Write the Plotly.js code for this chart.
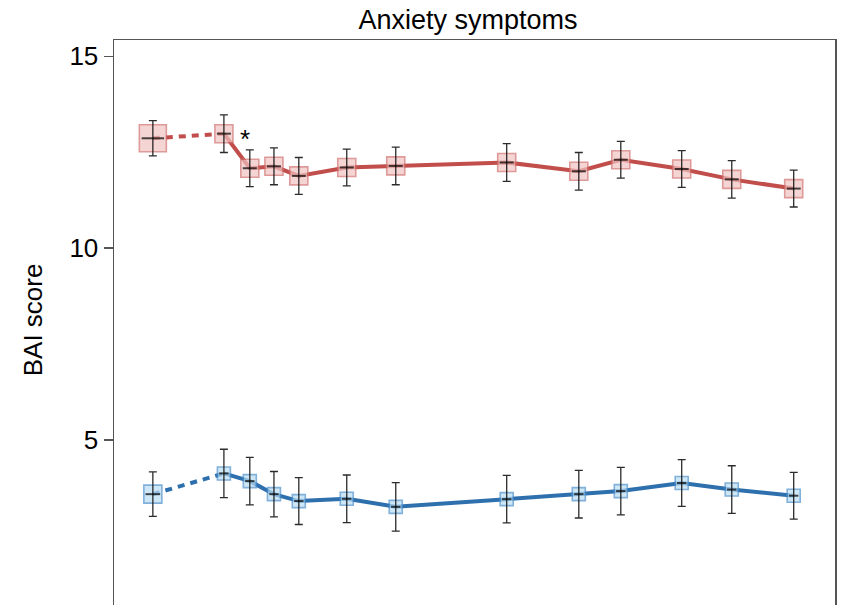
<!DOCTYPE html>
<html>
<head>
<meta charset="utf-8">
<script src="https://cdn.plot.ly/plotly-3.0.1.min.js"></script>
<style>
  html, body { margin: 0; padding: 0; background: #fff; overflow: hidden; }
  #chart { width: 844px; height: 652px; }
</style>
</head>
<body>
<div id="chart"></div>
<script>
// Days since baseline for each assessment wave
const days = [0, 20.3, 27.7, 34.6, 41.7, 55.4, 69.4, 101.1, 121.7, 133.7, 151.1, 165.4, 183.1];

// Group with higher anxiety: mean BAI score and error half-width
const redMean = [12.86, 12.98, 12.08, 12.13, 11.88, 12.10, 12.14, 12.23, 12.00, 12.30, 12.06, 11.79, 11.55];
const redErr  = [0.46, 0.49, 0.48, 0.48, 0.48, 0.48, 0.49, 0.49, 0.49, 0.48, 0.48, 0.49, 0.48];

// Group with lower anxiety
const blueMean = [3.59, 4.13, 3.93, 3.59, 3.41, 3.47, 3.26, 3.46, 3.59, 3.67, 3.88, 3.71, 3.55];
const blueErr  = [0.58, 0.63, 0.62, 0.59, 0.61, 0.62, 0.63, 0.62, 0.62, 0.62, 0.61, 0.62, 0.61];

const yTicks = [5, 10, 15];
const titleText = 'Anxiety symptoms';
const yTitleText = 'BAI score';
const starText = '*';

const FONT = 'Liberation Sans, Arial, Helvetica, sans-serif';

function groupTraces(x, mean, err, style) {
  const box = x.map((_, i) => i === 0 ? style.firstBox : style.box);
  const tick = x.map((_, i) => i === 0 ? style.firstTick : style.tick);
  return [
    // dashed link from baseline to first follow-up
    { x: x.slice(0, 2), y: mean.slice(0, 2), mode: 'lines', hoverinfo: 'skip',
      line: { color: style.line, width: 4, dash: '7px,6px' } },
    // solid line through the follow-up waves
    { x: x.slice(1), y: mean.slice(1), mode: 'lines', hoverinfo: 'skip',
      line: { color: style.line, width: 4 } },
    // square markers
    { x: x, y: mean, mode: 'markers', hoverinfo: 'skip',
      marker: { symbol: 'square', size: box, color: style.fill,
                line: { color: style.edge, width: 1.6 } } },
    // mean tick and error bars on top
    { x: x, y: mean, mode: 'markers',
      marker: { symbol: 'line-ew', size: tick, color: '#000',
                line: { color: '#000', width: 2 } },
      error_y: { type: 'data', array: err, visible: true,
                 color: 'rgba(20,20,20,0.9)', thickness: 1.3, width: 4 } }
  ];
}

const traces = [].concat(
  groupTraces(days, redMean, redErr,
    { line: '#c14e4b', fill: '#f1c3c2', edge: '#d0706e',
      box: 18, firstBox: 27, tick: 10, firstTick: 16 }),
  groupTraces(days, blueMean, blueErr,
    { line: '#2e70ae', fill: '#b9ddf3', edge: '#4d8fca',
      box: 13, firstBox: 18, tick: 6.7, firstTick: 10.5 })
);

const layout = {
  width: 844,
  height: 652,
  margin: { l: 114, r: 9, t: 40, b: 20 },
  paper_bgcolor: '#ffffff',
  plot_bgcolor: '#ffffff',
  showlegend: false,
  font: { family: FONT, size: 26, color: '#000' },
  title: {
    text: titleText,
    font: { family: FONT, size: 27, color: '#000' },
    x: 0.491, xref: 'paper', xanchor: 'center',
    y: 1 - 20 / 652, yref: 'container', yanchor: 'middle'
  },
  xaxis: {
    range: [-11.1, 194.9],
    showgrid: false, zeroline: false,
    showticklabels: false, ticks: '',
    showline: true, mirror: true, linecolor: '#555', linewidth: 1.5
  },
  yaxis: {
    range: [0, 15.42],
    tickvals: yTicks,
    ticktext: yTicks.map(String),
    ticks: 'outside', ticklen: 9, tickwidth: 1.2, tickcolor: '#555',
    tickfont: { family: FONT, size: 26, color: '#000' },
    showgrid: false, zeroline: false,
    showline: true, mirror: true, linecolor: '#555', linewidth: 1.5
  },
  annotations: [
    { text: yTitleText, textangle: -90, showarrow: false,
      xref: 'paper', yref: 'paper', x: -0.112, y: 0.527,
      xanchor: 'center', yanchor: 'middle',
      font: { family: FONT, size: 26, color: '#000' } },
    { text: starText, showarrow: false,
      x: days[1], y: redMean[1], xref: 'x', yref: 'y',
      xshift: 21, yshift: -5,
      font: { family: FONT, size: 26, color: '#000' } }
  ]
};

Plotly.newPlot('chart', traces, layout, { displayModeBar: false, staticPlot: true });
</script>
</body>
</html>
